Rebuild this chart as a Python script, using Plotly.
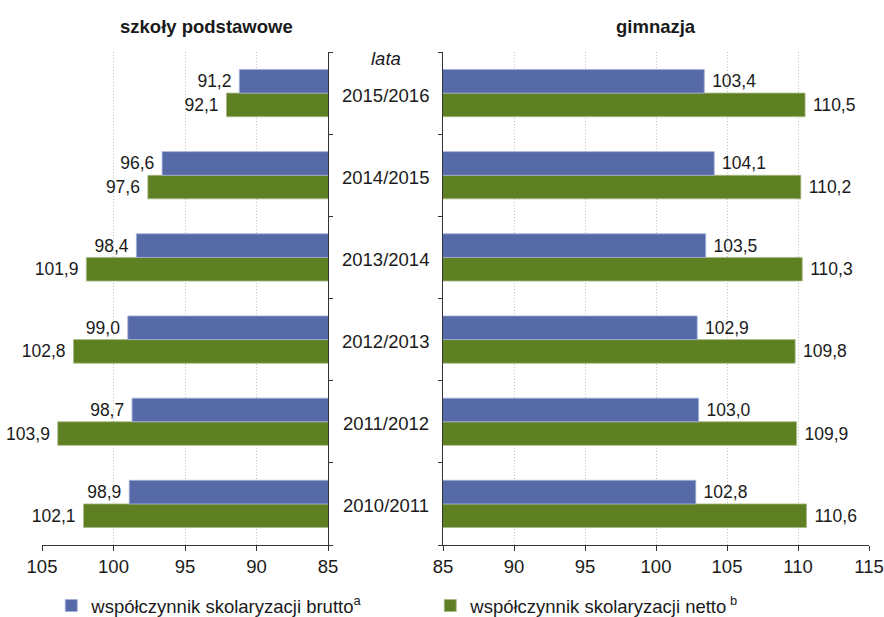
import plotly.graph_objects as go

# School years, listed bottom-up as they appear on the category axis
years = ["2010/2011", "2011/2012", "2012/2013", "2013/2014", "2014/2015", "2015/2016"]

# Primary schools (szkoły podstawowe)
primary_gross = [98.9, 98.7, 99.0, 98.4, 96.6, 91.2]
primary_net = [102.1, 103.9, 102.8, 101.9, 97.6, 92.1]

# Lower secondary schools (gimnazja)
lower_sec_gross = [102.8, 103.0, 102.9, 103.5, 104.1, 103.4]
lower_sec_net = [110.6, 109.9, 109.8, 110.3, 110.2, 110.5]

ticks = [85, 90, 95, 100, 105, 110, 115]

BLUE = "#566aa8"
GREEN = "#5f7f23"
FONT = "Arial, Liberation Sans, sans-serif"
TXT = "#1a1a1a"
W, H = 884, 617
NBSP = "\u00a0"


def label(vals, side):
    """Decimal-comma value labels, padded on the side facing the bar."""
    out = [f"{v:.1f}".replace(".", ",") for v in vals]
    if side == "right":
        return [NBSP + s for s in out]
    return [s + NBSP for s in out]


fig = go.Figure()

# green (net) first so it sits below blue (gross) within each group
for xa, ya, net, gross, show, side in [
    ("x", "y", primary_net, primary_gross, False, "left"),
    ("x2", "y2", lower_sec_net, lower_sec_gross, True, "right"),
]:
    fig.add_trace(go.Bar(
        y=years, x=net, orientation="h", xaxis=xa, yaxis=ya,
        name="współczynnik skolaryzacji netto<sup> b</sup>",
        marker=dict(color=GREEN, line=dict(color="#a9bb88", width=0.8)),
        text=label(net, side), textposition="outside",
        textfont=dict(size=17.5, color=TXT, family=FONT),
        showlegend=show, legendrank=2, cliponaxis=False,
    ))
    fig.add_trace(go.Bar(
        y=years, x=gross, orientation="h", xaxis=xa, yaxis=ya,
        name="współczynnik skolaryzacji brutto<sup>a</sup>",
        marker=dict(color=BLUE, line=dict(color="#a3afd8", width=0.8)),
        text=label(gross, side), textposition="outside",
        textfont=dict(size=17.5, color=TXT, family=FONT),
        showlegend=show, legendrank=1, cliponaxis=False,
    ))

xdom_l = [42 / W, 328 / W]
xdom_r = [443 / W, 869 / W]
ydom = [1 - 545 / H, 1 - 52 / H]

xcommon = dict(
    tickvals=ticks, ticktext=[str(t) for t in ticks],
    showgrid=True, gridcolor="#c4c4c4", griddash="1px,2px", gridwidth=1,
    showline=True, linecolor="#333333", linewidth=1.2,
    ticks="outside", ticklen=5, tickcolor="#333333",
    tickfont=dict(size=18.5, color=TXT, family=FONT),
    zeroline=False, fixedrange=True, automargin=False,
)
ycommon = dict(
    type="category", categoryorder="array", categoryarray=years,
    showline=True, linecolor="#333333", linewidth=1.2,
    ticks="outside", ticklen=4, tickcolor="#333333", tickson="boundaries",
    showticklabels=False, showgrid=False, zeroline=False, automargin=False,
)

fig.update_layout(
    width=W, height=H,
    margin=dict(l=0, r=0, t=0, b=0, autoexpand=False),
    paper_bgcolor="white", plot_bgcolor="white",
    barmode="group", bargap=0.425, bargroupgap=0,
    font=dict(family=FONT, size=18, color=TXT),
    xaxis=dict(domain=xdom_l, range=[105, 85], anchor="y", **xcommon),
    xaxis2=dict(domain=xdom_r, range=[85, 115], anchor="y2", **xcommon),
    yaxis=dict(domain=ydom, anchor="x", side="right", **ycommon),
    yaxis2=dict(domain=ydom, anchor="x2", side="left", **ycommon),
    legend=dict(
        orientation="h", x=0.058, y=1 - 606 / H, xanchor="left", yanchor="middle",
        font=dict(size=18.5, color=TXT, family=FONT),
        entrywidth=334, entrywidthmode="pixels", bgcolor="rgba(0,0,0,0)",
    ),
)


def note(text, x, y, yref="paper", yshift=0):
    fig.add_annotation(text=text, x=x, y=y, xref="paper", yref=yref,
                       xanchor="center", yanchor="middle", yshift=yshift,
                       showarrow=False, font=dict(size=18.5, color=TXT, family=FONT))


# panel titles
note("<b>szkoły podstawowe</b>", 206 / W, 1 - 26 / H)
note("<b>gimnazja</b>", 656 / W, 1 - 26 / H)

# central year labels
cx = 385.5 / W
note("<i>lata</i>", cx, 1 - 59 / H)
for yr in years:
    note(yr, cx, yr, yref="y", yshift=-2)

fig.write_html("out.html")
